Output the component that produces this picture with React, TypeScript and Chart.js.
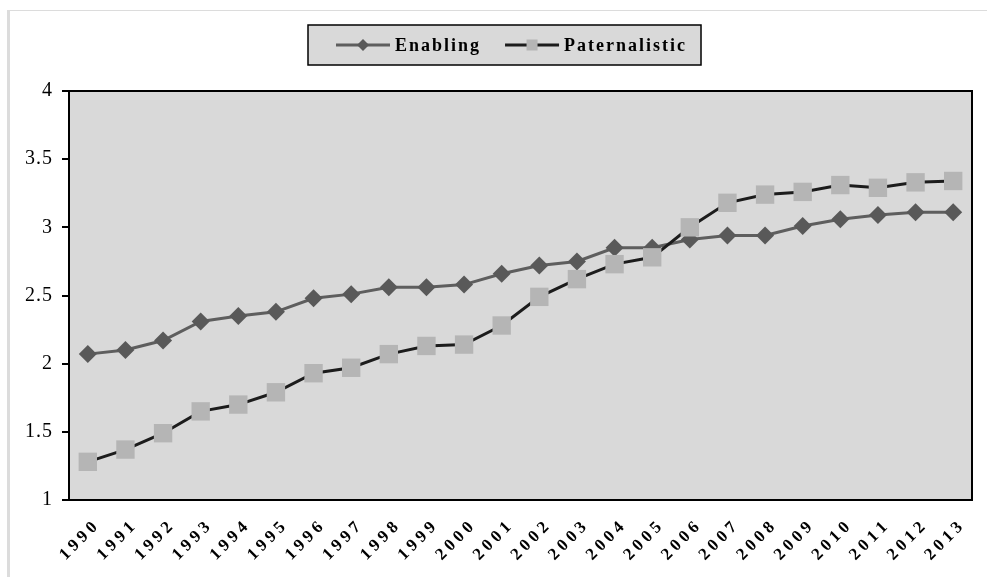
import React, { useEffect, useRef } from "react";
import { Chart, registerables } from "chart.js";

Chart.register(...registerables);

const years: string[] = [
  "1990", "1991", "1992", "1993", "1994", "1995", "1996", "1997", "1998", "1999", "2000", "2001",
  "2002", "2003", "2004", "2005", "2006", "2007", "2008", "2009", "2010", "2011", "2012", "2013",
];

const enabling: number[] = [
  2.07, 2.10, 2.17, 2.31, 2.35, 2.38, 2.48, 2.51, 2.56, 2.56, 2.58, 2.66,
  2.72, 2.75, 2.85, 2.85, 2.91, 2.94, 2.94, 3.01, 3.06, 3.09, 3.11, 3.11,
];

const paternalistic: number[] = [
  1.28, 1.37, 1.49, 1.65, 1.70, 1.79, 1.93, 1.97, 2.07, 2.13, 2.14, 2.28,
  2.49, 2.62, 2.73, 2.78, 3.00, 3.18, 3.24, 3.26, 3.31, 3.29, 3.33, 3.34,
];

const yMin = 1;
const yMax = 4;
const yStep = 0.5;

const SERIF = '"Liberation Serif", "Times New Roman", serif';
const PLOT_BG = "#d9d9d9";

const bgPlugin = {
  id: "bgPlugin",
  beforeDraw(chart: any) {
    const { ctx, chartArea } = chart;
    ctx.save();
    ctx.fillStyle = "#ffffff";
    ctx.fillRect(0, 0, chart.width, chart.height);
    ctx.fillStyle = PLOT_BG;
    ctx.fillRect(chartArea.left, chartArea.top, chartArea.right - chartArea.left, chartArea.bottom - chartArea.top);
    ctx.restore();
    (ctx as any).letterSpacing = "1px";
  },
  afterDraw(chart: any) {
    const { ctx, chartArea } = chart;
    ctx.save();
    (ctx as any).letterSpacing = "0px";
    ctx.strokeStyle = "#000000";
    ctx.lineWidth = 2;
    ctx.strokeRect(chartArea.left, chartArea.top, chartArea.right - chartArea.left, chartArea.bottom - chartArea.top);

    // x tick labels, rotated, spaced characters
    const xs = chart.scales.x;
    ctx.font = `bold 17px ${SERIF}`;
    ctx.fillStyle = "#000000";
    ctx.textBaseline = "middle";
    ctx.textAlign = "left";
    const ls = 4;
    const ang = -Math.PI / 4;
    xs.ticks.forEach((t: any, i: number) => {
      const label = String(chart.data.labels[i]);
      const chars = label.split("");
      const widths = chars.map((c) => ctx.measureText(c).width);
      const total = widths.reduce((a, b) => a + b, 0) + ls * (chars.length - 1);
      const ax = xs.getPixelForTick(i) + 7;
      const ay = chartArea.bottom + 25;
      ctx.save();
      ctx.translate(ax, ay);
      ctx.rotate(ang);
      let cx = -total;
      chars.forEach((c, k) => {
        ctx.fillText(c, cx, 0);
        cx += widths[k] + ls;
      });
      ctx.restore();
    });

    // legend box
    const datasets = chart.data.datasets;
    ctx.font = `bold 18px ${SERIF}`;
    (ctx as any).letterSpacing = "2px";
    const boxX = 308;
    const boxY = 25;
    const boxH = 40;
    const padL = 28;
    const padR = 16;
    const lineLen = 54;
    const gapText = 5;
    const itemGap = 26;
    const widths = datasets.map((d: any) => ctx.measureText(d.label).width - 2);
    let totalW = padL + padR;
    widths.forEach((w: number, i: number) => {
      totalW += lineLen + gapText + w + (i > 0 ? itemGap : 0);
    });
    ctx.fillStyle = PLOT_BG;
    ctx.fillRect(boxX, boxY, totalW, boxH);
    ctx.strokeStyle = "#000000";
    ctx.lineWidth = 1.5;
    ctx.strokeRect(boxX, boxY, totalW, boxH);
    const cy = boxY + boxH / 2;
    let x = boxX + padL;
    datasets.forEach((d: any, i: number) => {
      if (i > 0) x += itemGap;
      ctx.strokeStyle = d.borderColor;
      ctx.lineWidth = 3;
      ctx.beginPath();
      ctx.moveTo(x, cy);
      ctx.lineTo(x + lineLen, cy);
      ctx.stroke();
      const mx = x + lineLen / 2;
      ctx.fillStyle = d.pointBackgroundColor;
      ctx.beginPath();
      if (d.pointStyle === "rectRot") {
        const r = 6;
        ctx.moveTo(mx - r, cy);
        ctx.lineTo(mx, cy - r);
        ctx.lineTo(mx + r, cy);
        ctx.lineTo(mx, cy + r);
        ctx.closePath();
      } else {
        const s = 5.5;
        ctx.rect(mx - s, cy - s, 2 * s, 2 * s);
      }
      ctx.fill();
      x += lineLen + gapText;
      ctx.fillStyle = "#000000";
      ctx.textAlign = "left";
      ctx.textBaseline = "middle";
      ctx.fillText(d.label, x, cy + 1);
      x += widths[i];
    });
    ctx.restore();
  },
};

export default function App() {
  const canvasRef = useRef<HTMLCanvasElement | null>(null);

  useEffect(() => {
    document.body.style.margin = "0";
    const canvas = canvasRef.current;
    if (!canvas) return;
    const chart = new Chart(canvas, {
      type: "line",
      data: {
        labels: years,
        datasets: [
          {
            label: "Enabling",
            data: enabling,
            borderColor: "#5e5e5e",
            borderWidth: 3,
            pointStyle: "rectRot",
            pointRadius: 9,
            pointHoverRadius: 9,
            pointBackgroundColor: "#595959",
            pointBorderColor: "#595959",
            pointBorderWidth: 0,
            tension: 0,
            order: 1,
          },
          {
            label: "Paternalistic",
            data: paternalistic,
            borderColor: "#1c1c1c",
            borderWidth: 3,
            pointStyle: "rect",
            pointRadius: 13,
            pointHoverRadius: 13,
            pointBackgroundColor: "#b5b5b5",
            pointBorderColor: "#b5b5b5",
            pointBorderWidth: 0,
            tension: 0,
            order: 0,
          },
        ],
      },
      options: {
        animation: false,
        responsive: false,
        devicePixelRatio: 1,
        layout: { padding: { top: 91, right: 15, left: 0, bottom: 0 } },
        plugins: {
          legend: { display: false },
          title: { display: false },
          tooltip: { enabled: false },
        },
        scales: {
          x: {
            offset: true,
            grid: { display: false },
            border: { display: false },
            ticks: { display: false },
            afterFit: (scale: any) => {
              scale.height = 77;
            },
          },
          y: {
            min: yMin,
            max: yMax,
            grid: {
              drawOnChartArea: false,
              drawTicks: true,
              tickLength: 7,
              color: "#000000",
              lineWidth: 2,
            },
            border: { display: false },
            ticks: {
              stepSize: yStep,
              padding: 9,
              color: "#000000",
              font: { family: SERIF, size: 20 },
              callback: (v: any) => String(Number(v)),
            },
            afterFit: (scale: any) => {
              scale.width = 69;
            },
          },
        },
      },
      plugins: [bgPlugin],
    });
    return () => chart.destroy();
  }, []);

  return (
    <div style={{ position: "relative", width: 987, height: 577, overflow: "hidden", background: "#fff" }}>
      <canvas ref={canvasRef} width={987} height={577} style={{ display: "block", width: 987, height: 577 }} />
      <div
        style={{
          position: "absolute",
          left: 7,
          top: 10,
          width: 1100,
          height: 700,
          borderLeft: "3px solid #dcdcdc",
          borderTop: "1px solid #dcdcdc",
          pointerEvents: "none",
        }}
      />
    </div>
  );
}
